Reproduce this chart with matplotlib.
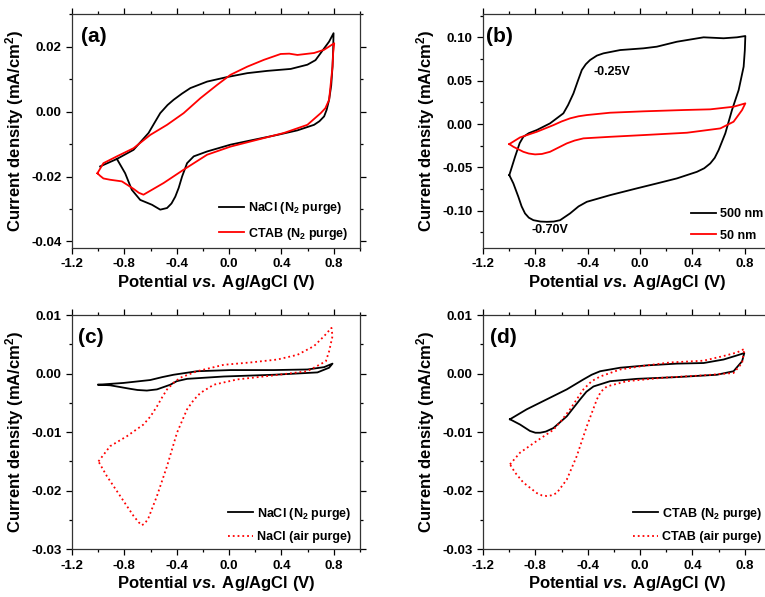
import matplotlib
matplotlib.use("Agg")
import matplotlib.pyplot as plt
from matplotlib.ticker import FixedLocator, MultipleLocator, FormatStrFormatter

plt.rcParams["font.family"] = ["Liberation Sans", "DejaVu Sans"]
plt.rcParams["font.weight"] = "bold"
plt.rcParams["axes.unicode_minus"] = False
plt.rcParams["mathtext.fontset"] = "custom"
plt.rcParams["mathtext.rm"] = "Liberation Sans:bold"
plt.rcParams["mathtext.it"] = "Liberation Sans:italic:bold"
plt.rcParams["mathtext.bf"] = "Liberation Sans:bold"

# (a) NaCl vs CTAB, N2 purge
a_nacl_v = [-0.985, -0.857, -0.730, -0.615, -0.570, -0.526, -0.470, -0.424, -0.360, -0.296,
            -0.168, -0.015, 0.139, 0.292, 0.471, 0.598, 0.660, 0.700, 0.764, 0.798,
            0.795, 0.790, 0.780, 0.764, 0.745, 0.726, 0.690, 0.649, 0.522, 0.369, 0.189,
            0.011, -0.168, -0.270, -0.321, -0.359, -0.385, -0.411, -0.440, -0.474, -0.526,
            -0.589, -0.679, -0.743, -0.794, -0.857]
a_nacl_j = [-0.0169, -0.0146, -0.0118, -0.0066, -0.0035, -0.0005, 0.0020, 0.0036, 0.0055, 0.0072,
            0.0092, 0.0106, 0.0118, 0.0125, 0.0131, 0.0144, 0.0158, 0.0180, 0.0215, 0.0241,
            0.0190, 0.0138, 0.0080, 0.0036, 0.0005, -0.0015, -0.0030, -0.0041, -0.0058, -0.0072, -0.0087,
            -0.0102, -0.0123, -0.0138, -0.0159, -0.0200, -0.0235, -0.0262, -0.0283, -0.0297, -0.0302,
            -0.0287, -0.0272, -0.0241, -0.0190, -0.0146]
a_ctab_v = [-1.006, -0.960, -0.857, -0.730, -0.602, -0.474, -0.347, -0.219, -0.091, 0.011,
            0.139, 0.266, 0.394, 0.460, 0.522, 0.649, 0.726, 0.803,
            0.795, 0.790, 0.764, 0.735, 0.700, 0.598, 0.419, 0.215, 0.011, -0.168, -0.347, -0.500,
            -0.654, -0.690, -0.730, -0.819, -0.909, -0.960, -0.985, -1.006]
a_ctab_j = [-0.0190, -0.0159, -0.0138, -0.0113, -0.0072, -0.0041, -0.0005, 0.0041, 0.0082, 0.0113,
            0.0138, 0.0159, 0.0177, 0.0178, 0.0174, 0.0180, 0.0190, 0.0210,
            0.0180, 0.0138, 0.0036, 0.0010, -0.0005, -0.0041, -0.0066, -0.0087, -0.0108, -0.0133,
            -0.0179, -0.0220, -0.0256, -0.0250, -0.0238, -0.0215, -0.0210, -0.0206, -0.0198, -0.0190]

# (b) 500 nm vs 50 nm
b_500_v = [-0.999, -0.955, -0.920, -0.892, -0.850, -0.789, -0.688, -0.586, -0.550, -0.509,
           -0.475, -0.445, -0.415, -0.382, -0.330, -0.280, -0.152, 0.026, 0.128, 0.281,
           0.485, 0.638, 0.740, 0.804,
           0.800, 0.791, 0.753, 0.702, 0.651, 0.600, 0.570, 0.536, 0.490, 0.434, 0.281,
           0.128, -0.025, -0.229, -0.407, -0.470, -0.535, -0.611, -0.660, -0.713, -0.760,
           -0.815, -0.850, -0.879, -0.905, -0.930, -0.968, -0.999]
b_500_j = [-0.0589, -0.0377, -0.0220, -0.0147, -0.0105, -0.0069, 0.0008, 0.0124, 0.0220, 0.0354,
           0.0500, 0.0624, 0.0690, 0.0739, 0.0790, 0.0816, 0.0854, 0.0874, 0.0893, 0.0950,
           0.1001, 0.0990, 0.1001, 0.1016,
           0.0850, 0.0662, 0.0393, 0.0162, -0.0107, -0.0300, -0.0390, -0.0454, -0.0510, -0.0551, -0.0627,
           -0.0685, -0.0742, -0.0820, -0.0897, -0.0950, -0.1031, -0.1109, -0.1125, -0.1128, -0.1125,
           -0.1109, -0.1080, -0.1031, -0.0950, -0.0839, -0.0685, -0.0589]
b_50_v = [-0.999, -0.917, -0.789, -0.662, -0.600, -0.535, -0.470, -0.407, -0.229, 0.026,
          0.332, 0.536, 0.714, 0.804,
          0.779, 0.714, 0.613, 0.358, 0.026, -0.229, -0.433, -0.500, -0.560, -0.688, -0.750,
          -0.802, -0.850, -0.892, -0.968, -0.999]
b_50_j = [-0.0231, -0.0154, -0.0089, -0.0012, 0.0030, 0.0066, 0.0090, 0.0104, 0.0131, 0.0147,
          0.0162, 0.0170, 0.0200, 0.0239,
          0.0162, 0.0027, -0.0050, -0.0100, -0.0127, -0.0147, -0.0165, -0.0190, -0.0223, -0.0320, -0.0345,
          -0.0350, -0.0340, -0.0320, -0.0262, -0.0231]

# (c) NaCl, N2 vs air purge
c_n2_v = [-0.998, -0.807, -0.602, -0.510, -0.424, -0.245, 0.011, 0.343, 0.598, 0.726, 0.790,
          0.764, 0.675, 0.343, -0.041, -0.321, -0.400, -0.449, -0.551, -0.628, -0.700, -0.756,
          -0.909, -0.998]
c_n2_j = [-0.0019, -0.0016, -0.0011, -0.0006, -0.0002, 0.0004, 0.0006, 0.0006, 0.0007, 0.0011, 0.0017,
          0.0010, 0.0002, -0.0002, -0.0005, -0.0009, -0.0013, -0.0019, -0.0027, -0.0029, -0.0028, -0.0026,
          -0.0020, -0.0019]
c_air_v = [-0.998, -0.909, -0.781, -0.654, -0.600, -0.551, -0.510, -0.474, -0.420, -0.372,
           -0.245, -0.041, 0.164, 0.369, 0.522, 0.649, 0.726, 0.782,
           0.790, 0.764, 0.739, 0.598, 0.343, 0.062, -0.117, -0.219, -0.270, -0.321, -0.398,
           -0.474, -0.551, -0.615, -0.640, -0.666, -0.690, -0.730, -0.832, -0.934, -0.998]
c_air_j = [-0.0150, -0.0124, -0.0107, -0.0087, -0.0073, -0.0056, -0.0040, -0.0027, -0.0015, -0.0007,
           0.0004, 0.0015, 0.0019, 0.0024, 0.0032, 0.0047, 0.0064, 0.0078,
           0.0064, 0.0038, 0.0021, 0.0004, -0.0003, -0.0010, -0.0019, -0.0033, -0.0045, -0.0061, -0.0101,
           -0.0158, -0.0209, -0.0246, -0.0255, -0.0259, -0.0254, -0.0243, -0.0209, -0.0175, -0.0150]

# (d) CTAB, N2 vs air purge
d_n2_v = [-0.994, -0.866, -0.713, -0.560, -0.433, -0.370, -0.305, -0.152, 0.052, 0.281,
          0.485, 0.638, 0.740, 0.796,
          0.779, 0.714, 0.587, 0.281, -0.025, -0.229, -0.356, -0.410, -0.458, -0.560, -0.662,
          -0.720, -0.764, -0.800, -0.841, -0.917, -0.994]
d_n2_j = [-0.0078, -0.0061, -0.0044, -0.0027, -0.0010, -0.0002, 0.0004, 0.0010, 0.0014, 0.0017,
          0.0018, 0.0024, 0.0031, 0.0035,
          0.0021, 0.0004, -0.0002, -0.0006, -0.0009, -0.0013, -0.0022, -0.0031, -0.0044, -0.0073, -0.0093,
          -0.0099, -0.0101, -0.0101, -0.0098, -0.0087, -0.0078]
d_air_v = [-0.994, -0.917, -0.789, -0.662, -0.600, -0.535, -0.433, -0.370, -0.305, -0.152,
           0.052, 0.230, 0.485, 0.638, 0.740, 0.796,
           0.779, 0.714, 0.485, 0.179, -0.101, -0.254, -0.300, -0.330, -0.407, -0.484, -0.560,
           -0.637, -0.680, -0.713, -0.750, -0.789, -0.892, -0.955, -0.994]
d_air_j = [-0.0155, -0.0135, -0.0115, -0.0096, -0.0080, -0.0061, -0.0027, -0.0013, -0.0005, 0.0007,
           0.0014, 0.0019, 0.0022, 0.0030, 0.0036, 0.0042,
           0.0018, 0.0001, -0.0003, -0.0007, -0.0013, -0.0022, -0.0031, -0.0044, -0.0090, -0.0141, -0.0181,
           -0.0204, -0.0208, -0.0209, -0.0208, -0.0204, -0.0186, -0.0169, -0.0155]

x_ticks = [-1.2, -0.8, -0.4, 0.0, 0.4, 0.8]
xlabel = r"Potential $\it{vs.}\;$Ag/AgCl (V)"
ylabel = r"Current density (mA/cm$^2$)"

fig = plt.figure(figsize=(7.65, 5.97), dpi=100)
W, H = 765, 597


def make_axes(left, top, bottom, width=288):
    return fig.add_axes([left / W, 1 - bottom / H, width / W, (bottom - top) / H])


ax_a = make_axes(72, 14, 248)
ax_b = make_axes(483, 14, 248)
ax_c = make_axes(72, 315, 549.3)
ax_d = make_axes(483, 315, 549.3)

lw = 1.3
ax_a.plot(a_nacl_v, a_nacl_j, color="black", lw=lw, label=r"NaCl (N$_2$ purge)")
ax_a.plot(a_ctab_v, a_ctab_j, color="red", lw=lw, label=r"CTAB (N$_2$ purge)")
ax_b.plot(b_500_v, b_500_j, color="black", lw=lw, label="500 nm")
ax_b.plot(b_50_v, b_50_j, color="red", lw=lw, label="50 nm")
ax_c.plot(c_n2_v, c_n2_j, color="black", lw=lw, label=r"NaCl (N$_2$ purge)")
ax_c.plot(c_air_v, c_air_j, color="red", lw=lw, ls=":", label="NaCl (air purge)")
ax_d.plot(d_n2_v, d_n2_j, color="black", lw=lw, label=r"CTAB (N$_2$ purge)")
ax_d.plot(d_air_v, d_air_j, color="red", lw=lw, ls=":", label="CTAB (air purge)")

ax_b.text(-0.215, 0.060, "-0.25V", fontsize=9, fontweight="bold", ha="center", va="center")
ax_b.text(-0.69, -0.122, "-0.70V", fontsize=9, fontweight="bold", ha="center", va="center")

setup = [
    (ax_a, "(a)", 0.03, (-0.042, 0.030), [-0.04, -0.02, 0.0, 0.02], 0.01, 0.49),
    (ax_b, "(b)", 0.01, (-0.143, 0.127), [-0.10, -0.05, 0.0, 0.05, 0.10], 0.025, 0.70),
    (ax_c, "(c)", 0.02, (-0.03, 0.01), [-0.03, -0.02, -0.01, 0.0, 0.01], 0.005, 0.52),
    (ax_d, "(d)", 0.025, (-0.03, 0.01), [-0.03, -0.02, -0.01, 0.0, 0.01], 0.005, 0.50),
]
for ax, tag, tag_x, ylim, yt, ymin, leg_x in setup:
    ax.set_xlim(-1.2, 1.0)
    ax.set_ylim(*ylim)
    ax.xaxis.set_major_locator(FixedLocator(x_ticks))
    ax.xaxis.set_minor_locator(MultipleLocator(0.2))
    ax.xaxis.set_major_formatter(FormatStrFormatter("%.1f"))
    ax.yaxis.set_major_locator(FixedLocator(yt))
    ax.yaxis.set_minor_locator(MultipleLocator(ymin))
    ax.yaxis.set_major_formatter(FormatStrFormatter("%.2f"))
    ax.tick_params(which="both", direction="out", top=True, right=True, labelsize=9.5, width=0.9)
    ax.tick_params(which="major", length=4)
    ax.tick_params(which="minor", length=2.5)
    for lab in ax.get_xticklabels() + ax.get_yticklabels():
        lab.set_fontweight("bold")
    for sp in ax.spines.values():
        sp.set_linewidth(0.9)
        sp.set_color("#333333")
    ax.set_xlabel(xlabel, fontsize=12, fontweight="bold")
    ax.set_ylabel(ylabel, fontsize=12, fontweight="bold")
    ax.xaxis.set_label_coords(0.5, -0.105)
    ax.yaxis.set_label_coords(-0.16, 0.5)
    ax.text(tag_x, 0.945, tag, transform=ax.transAxes, fontsize=15, fontweight="bold",
            ha="left", va="top")
    ax.legend(loc="lower left", bbox_to_anchor=(leg_x, 0.0), frameon=False,
              handlelength=2.0, handletextpad=0.3, labelspacing=0.75, borderaxespad=0.1,
              prop={"weight": "bold", "size": 9})

fig.savefig("out.png", dpi=100)
